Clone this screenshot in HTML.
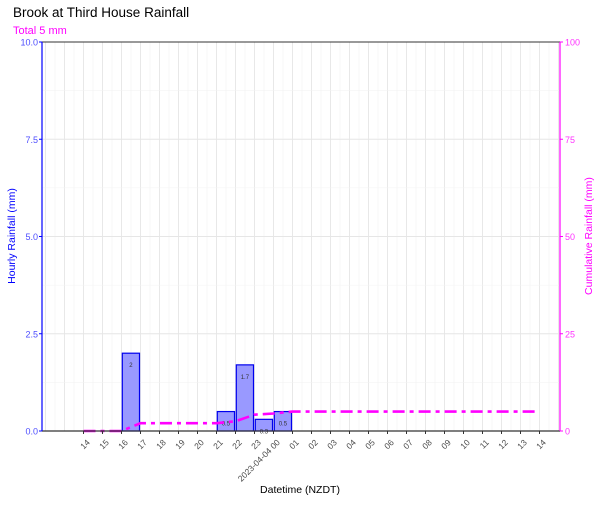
<!DOCTYPE html>
<html><head><meta charset="utf-8"><style>body{margin:0;background:#fff}svg{font-family:"Liberation Sans",sans-serif}</style></head>
<body>
<svg id="c" width="600" height="500" viewBox="0 0 600 500"></svg>
<script>
const tickLabels=["14","15","16","17","18","19","20","21","22","23","2023-04-04 00","01","02","03","04","05","06","07","08","09","10","11","12","13","14"];
const barHours=[2,7,8,9,10];
const barValues=[2,0.5,1.7,0.3,0.5];
const cumHours=[0,2,3,7,8,9,10,11,24];
const cumValues=[0,0,2,2,2.5,4.2,4.5,5,5];
const L=42,R=560,T=42,B=431;
const x=i=>83.5+i*19.0;
const yL=v=>B-(v/10)*(B-T);
const yR=v=>B-(v/100)*(B-T);
const NS="http://www.w3.org/2000/svg";
const svg=document.getElementById('c');
function mk(t,a,txt){const e=document.createElementNS(NS,t);for(const k in a)e.setAttribute(k,a[k]);if(txt!==undefined)e.textContent=txt;svg.appendChild(e);return e;}
// grid
for(let i=-4;i<=51;i++){const gx=83.5+i*9.5;if(gx<=L||gx>=R)continue;const g=mk('line',{x1:gx,x2:gx,y1:T,y2:B,stroke:i%2?'#f2f2f2':'#e6e6e6','stroke-width':i%2?0.6:0.9});}
for(let v=0;v<=10;v+=1.25){const g=mk('line',{x1:L,x2:R,y1:yL(v),y2:yL(v),stroke:(v%2.5)?'#f2f2f2':'#e6e6e6','stroke-width':(v%2.5)?0.6:0.9});}
// bars
barHours.forEach((h,k)=>{const v=barValues[k];
const r=mk('rect',{x:x(h)+0.8,y:yL(v),width:17.2,height:B-yL(v),fill:'#9999ff',stroke:'#0000ee','stroke-width':1.2});

const t=mk('text',{x:x(h)+9.4,y:yL(v)+14,'font-size':6,'text-anchor':'middle',fill:'#333'},String(v));
});
// cumulative line
const p=mk('polyline',{points:cumHours.map((h,k)=>x(h)+','+yR(cumValues[k])).join(' '),fill:'none',stroke:'#ff00ff','stroke-width':2.6,'stroke-dasharray':'12 5 4 5'});

// axes
let a=mk('line',{x1:L,x2:R,y1:T,y2:T,stroke:'#333','stroke-width':1});
a=mk('line',{x1:L,x2:R,y1:B,y2:B,stroke:'#333','stroke-width':1.2});
a=mk('line',{x1:L,x2:L,y1:T,y2:B,stroke:'#0000ff','stroke-width':1.2});
a=mk('line',{x1:R,x2:R,y1:T,y2:B,stroke:'#ff00ff','stroke-width':1.2});
[0,2.5,5,7.5,10].forEach(v=>{mk('line',{x1:L-3,x2:L,y1:yL(v),y2:yL(v),stroke:'#0000ff'});
const t=mk('text',{x:L-4,y:yL(v)+3.5,'font-size':9,'text-anchor':'end',fill:'#4d4dff'},v.toFixed(1));});
[0,25,50,75,100].forEach(v=>{mk('line',{x1:R,x2:R+3,y1:yR(v),y2:yR(v),stroke:'#ff00ff'});
const t=mk('text',{x:R+5,y:yR(v)+3.5,'font-size':9,fill:'#ff33ff'},String(v));});
tickLabels.forEach((s,i)=>{mk('line',{x1:x(i),x2:x(i),y1:B,y2:B+3,stroke:'#333'});
const ax=x(i)+7,ay=B+12;
const t=mk('text',{x:ax,y:ay,'font-size':8.5,'text-anchor':'end',fill:'#4d4d4d',transform:`rotate(-45 ${ax} ${ay})`},s);});
let t=mk('text',{x:13,y:17,'font-size':13.5,fill:'#000'},'Brook at Third House Rainfall');
t=mk('text',{x:13,y:34,'font-size':11,fill:'#ff00ff'},'Total 5 mm');
t=mk('text',{x:300,y:493,'font-size':10.5,'text-anchor':'middle',fill:'#000'},'Datetime (NZDT)');
t=mk('text',{x:15,y:236,'font-size':10.5,'text-anchor':'middle',fill:'#0000ff',transform:'rotate(-90 15 236)'},'Hourly Rainfall (mm)');
t=mk('text',{x:592,y:236,'font-size':10.5,'text-anchor':'middle',fill:'#ff00ff',transform:'rotate(-90 592 236)'},'Cumulative Rainfall (mm)');
</script>
</body></html>
